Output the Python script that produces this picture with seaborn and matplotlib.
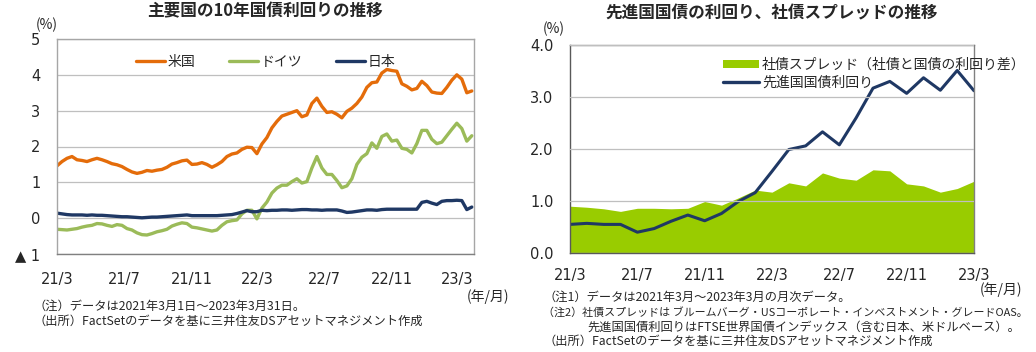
import numpy as np
import pandas as pd
import seaborn as sns
import matplotlib.pyplot as plt
from matplotlib.patches import Patch
from matplotlib.lines import Line2D

# ---- left panel: daily 10y yields (~9 day steps) ----
us = [1.46, 1.58, 1.67, 1.72, 1.63, 1.61, 1.58, 1.63, 1.67, 1.63, 1.58, 1.52, 1.49, 1.44,
      1.36, 1.29, 1.25, 1.28, 1.33, 1.31, 1.34, 1.36, 1.42, 1.51, 1.55, 1.60, 1.62, 1.50,
      1.51, 1.55, 1.50, 1.42, 1.49, 1.58, 1.72, 1.79, 1.82, 1.92, 1.98, 1.97, 1.80, 2.07,
      2.25, 2.52, 2.70, 2.85, 2.90, 2.95, 3.00, 2.83, 2.88, 3.20, 3.35, 3.12, 2.95, 2.97,
      2.90, 2.80, 2.98, 3.07, 3.20, 3.38, 3.65, 3.78, 3.80, 4.05, 4.15, 4.12, 4.10, 3.75,
      3.68, 3.58, 3.62, 3.82, 3.70, 3.52, 3.49, 3.48, 3.65, 3.85, 4.00, 3.88, 3.50, 3.55]
germany = [-0.31, -0.32, -0.33, -0.31, -0.29, -0.25, -0.22, -0.20, -0.15, -0.16, -0.20, -0.23, -0.18, -0.20,
           -0.29, -0.33, -0.41, -0.46, -0.47, -0.43, -0.38, -0.35, -0.31, -0.22, -0.17, -0.13, -0.15, -0.25,
           -0.27, -0.30, -0.33, -0.36, -0.33, -0.20, -0.10, -0.07, -0.05, 0.12, 0.22, 0.22, -0.02, 0.28,
           0.45, 0.70, 0.84, 0.92, 0.92, 1.02, 1.10, 0.98, 1.02, 1.40, 1.72, 1.40, 1.22, 1.22,
           1.05, 0.85, 0.90, 1.10, 1.50, 1.70, 1.80, 2.10, 1.95, 2.28, 2.35, 2.15, 2.18, 1.95,
           1.92, 1.82, 2.08, 2.45, 2.45, 2.20, 2.08, 2.12, 2.30, 2.48, 2.65, 2.50, 2.15, 2.30]
japan = [0.14, 0.12, 0.10, 0.09, 0.09, 0.09, 0.08, 0.09, 0.08, 0.08, 0.07, 0.06, 0.05, 0.04,
         0.04, 0.03, 0.02, 0.01, 0.02, 0.03, 0.03, 0.04, 0.05, 0.06, 0.07, 0.08, 0.09, 0.07,
         0.07, 0.07, 0.07, 0.07, 0.07, 0.08, 0.09, 0.10, 0.13, 0.17, 0.21, 0.18, 0.18, 0.22,
         0.21, 0.22, 0.22, 0.23, 0.23, 0.22, 0.23, 0.24, 0.24, 0.23, 0.23, 0.22, 0.23, 0.23,
         0.23, 0.20, 0.16, 0.17, 0.19, 0.21, 0.23, 0.23, 0.22, 0.24, 0.25, 0.25, 0.25, 0.25,
         0.25, 0.25, 0.25, 0.44, 0.47, 0.42, 0.38, 0.47, 0.49, 0.49, 0.50, 0.49, 0.24, 0.31]
countries = ['米国', 'ドイツ', '日本']
left_ticks = ['2021-03-01', '2021-07-01', '2021-11-01', '2022-03-01',
              '2022-07-01', '2022-11-01', '2023-03-01']
left_tick_labels = ['21/3', '21/7', '21/11', '22/3', '22/7', '22/11', '23/3']
left_ylabels = ['▲ 1', '0', '1', '2', '3', '4', '5']

# ---- right panel: monthly, 2021/3 - 2023/3 ----
spread = [0.90, 0.88, 0.85, 0.80, 0.86, 0.86, 0.85, 0.86, 0.99, 0.92, 1.06, 1.21, 1.17,
          1.35, 1.29, 1.54, 1.44, 1.40, 1.60, 1.58, 1.33, 1.29, 1.17, 1.24, 1.38]
gov_yield = [0.55, 0.57, 0.55, 0.55, 0.40, 0.47, 0.61, 0.73, 0.62, 0.76, 0.99, 1.16, 1.57,
             1.99, 2.06, 2.33, 2.08, 2.60, 3.17, 3.30, 3.07, 3.37, 3.13, 3.51, 3.12]
right_tick_labels = ['21/3', '21/7', '21/11', '22/3', '22/7', '22/11', '23/3']

orange = '#E46C0A'
green_line = '#9BBB59'
navy = '#1F3864'
green_area = '#99CC00'
grid_c = '#BFBFBF'

sns.set_style('white')
plt.rcParams['font.family'] = ['DejaVu Sans', 'Noto Sans CJK JP']
jp_font = ['Noto Sans CJK JP', 'DejaVu Sans']

W, H = 1036, 352
fig = plt.figure(figsize=(W / 100, H / 100), dpi=100)
ax1 = fig.add_axes([57 / W, 1 - 254 / H, 417 / W, 215 / H])
ax2 = fig.add_axes([570 / W, 1 - 253 / H, 404 / W, 208 / H])

# ----- left -----
dates = pd.date_range('2021-03-01', '2023-03-27', periods=len(us))
df = pd.DataFrame({'date': dates, '米国': us, 'ドイツ': germany, '日本': japan})
long = df.melt(id_vars='date', var_name='country', value_name='yield')
sns.lineplot(data=long, x='date', y='yield', hue='country', hue_order=countries,
             palette=[orange, green_line, navy], linewidth=2.4, ax=ax1)

ax1.set_xlim(pd.Timestamp('2021-03-01'), pd.Timestamp('2023-03-31'))
ax1.set_ylim(-1, 5)
ax1.set_yticks(range(-1, 6))
ax1.set_yticklabels(left_ylabels, fontsize=10.5)
ax1.set_xticks(pd.to_datetime(left_ticks))
ax1.set_xticklabels(left_tick_labels, fontsize=10.5)
ax1.yaxis.grid(True, color=grid_c, lw=0.9)
ax1.tick_params(axis='x', direction='in', length=5, pad=13, color='#808080')
ax1.tick_params(axis='y', length=0, pad=12)
for s in ax1.spines.values():
    s.set_color('#A6A6A6')
    s.set_linewidth(1)
ax1.spines['bottom'].set_color('#808080')
ax1.set_xlabel('')
ax1.set_ylabel('')
ax1.legend(loc='center', bbox_to_anchor=(0.5, 0.893), ncol=3, frameon=False,
           handlelength=2.1, handletextpad=0.2, columnspacing=2.4,
           prop={'family': jp_font, 'size': 10})
ax1.set_title('主要国の10年国債利回りの推移', fontsize=12, fontweight='bold',
              family=jp_font, pad=16)

# ----- right -----
idx = np.arange(len(spread))
ax2.fill_between(idx, 0, spread, color=green_area, lw=0)
sns.lineplot(x=idx, y=gov_yield, color=navy, linewidth=2.2, ax=ax2)
ax2.set_xlim(0, len(spread) - 1)
ax2.set_ylim(0, 4)
ax2.set_yticks(np.arange(0, 4.1, 1.0))
ax2.set_yticklabels([f'{v:.1f}' for v in np.arange(0, 4.1, 1.0)], fontsize=10.5)
ax2.set_xticks(idx[::4])
ax2.set_xticklabels(right_tick_labels, fontsize=10.5)
ax2.yaxis.grid(True, color=grid_c, lw=0.9)
ax2.set_axisbelow(False)
ax2.tick_params(axis='x', direction='in', length=5, pad=11, color='#595959')
ax2.tick_params(axis='y', length=0, pad=12)
for s in ax2.spines.values():
    s.set_color('#808080')
    s.set_linewidth(1)
ax2.spines['left'].set_color('#595959')
ax2.spines['bottom'].set_color('#595959')
handles = [Patch(facecolor=green_area, edgecolor='none'),
           Line2D([0], [0], color=navy, lw=2.4)]
ax2.legend(handles, ['社債スプレッド（社債と国債の利回り差）', '先進国国債利回り'],
           loc='upper left', bbox_to_anchor=(0.355, 0.985), frameon=False,
           handlelength=2.6, handleheight=0.6, handletextpad=0.2, labelspacing=0.25,
           borderpad=0.2, prop={'family': jp_font, 'size': 10})
ax2.set_title('先進国国債の利回り、社債スプレッドの推移', fontsize=12,
              fontweight='bold', family=jp_font, pad=19)

# ----- surrounding text -----
renderer = fig.canvas.get_renderer()


def ftext(x, y, s, size=8.8, max_w=None):
    t = fig.text(x / W, 1 - y / H, s, family=jp_font, va='center', fontsize=size)
    if max_w:
        w = t.get_window_extent(renderer).width
        if w > max_w:
            t.set_fontsize(size * max_w / w)
    return t


ftext(36, 25, '(%)', 10)
ftext(467, 297, '(年/月)', 10)
ftext(34, 306, '（注）データは2021年3月1日～2023年3月31日。')
ftext(34, 321, '（出所）FactSetのデータを基に三井住友DSアセットマネジメント作成')

ftext(543, 29, '(%)', 10)
ftext(980, 290, '(年/月)', 10)
ftext(543, 297, '（注1）データは2021年3月～2023年3月の月次データ。')
ftext(543, 312, '（注2）社債スプレッドは ブルームバーグ・USコーポレート・インベストメント・グレードOAS。',
      max_w=485)
ftext(587, 327, '先進国国債利回りはFTSE世界国債インデックス（含む日本、米ドルベース）。',
      max_w=440)
ftext(543, 341, '（出所）FactSetのデータを基に三井住友DSアセットマネジメント作成')

fig.savefig('out.png', dpi=100)
